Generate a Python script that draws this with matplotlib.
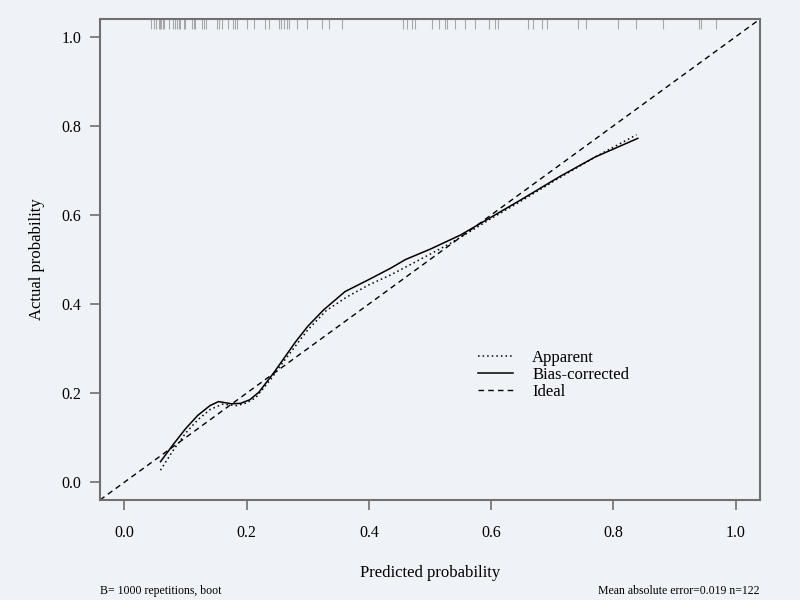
import numpy as np
import matplotlib.pyplot as plt

# Calibration curves
bias_x = [0.059, 0.08, 0.10, 0.12, 0.14, 0.154, 0.175, 0.19, 0.205, 0.22, 0.244,
          0.28, 0.30, 0.326, 0.361, 0.40, 0.435, 0.46, 0.50, 0.55, 0.60, 0.65,
          0.712, 0.77, 0.84]
bias_y = [0.046, 0.085, 0.12, 0.15, 0.172, 0.181, 0.176, 0.177, 0.185, 0.202, 0.245,
          0.315, 0.35, 0.387, 0.428, 0.455, 0.48, 0.50, 0.523, 0.555, 0.595, 0.635,
          0.686, 0.73, 0.772]

app_x = [0.059, 0.08, 0.10, 0.12, 0.14, 0.16, 0.184, 0.20, 0.215, 0.24, 0.26,
         0.30, 0.33, 0.364, 0.40, 0.435, 0.47, 0.533, 0.58, 0.60, 0.65, 0.71,
         0.77, 0.838]
app_y = [0.027, 0.072, 0.11, 0.14, 0.163, 0.175, 0.172, 0.178, 0.19, 0.232, 0.27,
         0.342, 0.385, 0.416, 0.443, 0.465, 0.49, 0.536, 0.575, 0.592, 0.632, 0.682,
         0.73, 0.78]

# predicted values shown as rug at the top
rug_x = [0.0441, 0.0479, 0.0518, 0.0560, 0.0577, 0.0600, 0.0632, 0.0654, 0.0724,
         0.0796, 0.0833, 0.0861, 0.0887, 0.0915, 0.0969, 0.0997, 0.1106, 0.1132,
         0.1160, 0.1270, 0.1307, 0.1340, 0.1515, 0.1552, 0.1596, 0.1688, 0.1776,
         0.1814, 0.1842, 0.2005, 0.2113, 0.2304, 0.2358, 0.2521, 0.2560, 0.2603,
         0.2658, 0.2685, 0.2822, 0.2985, 0.3230, 0.3355, 0.3557, 0.4554, 0.4629,
         0.4701, 0.4755, 0.5028, 0.5152, 0.5245, 0.5273, 0.5408, 0.5572, 0.5735,
         0.5969, 0.6062, 0.6116, 0.6606, 0.6688, 0.6825, 0.6907, 0.7423, 0.7560,
         0.8077, 0.8377, 0.8812, 0.9400, 0.9439, 0.9685]

ticks = [0.0, 0.2, 0.4, 0.6, 0.8, 1.0]
bg = '#eff2f7'
frame = '#707070'

plt.rcParams['font.family'] = ['Liberation Serif', 'DejaVu Serif']

fig = plt.figure(figsize=(8, 6), dpi=100, facecolor=bg)
ax = fig.add_axes([0.125, 0.1667, 0.825, 0.8016], facecolor=bg)

lo, hi = -0.04, 1.04
ax.set_xlim(lo, hi)
ax.set_ylim(lo, hi)

ax.plot(app_x, app_y, color='black', lw=1.1, linestyle=(0, (1, 2)), label='Apparent')
ax.plot(bias_x, bias_y, color='black', lw=1.1, linestyle='-', label='Bias-corrected')
ax.plot([lo, hi], [lo, hi], color='black', lw=1.0, linestyle=(0, (4, 3)), label='Ideal')

ax.vlines(rug_x, hi - 0.022, hi, colors='#777777', lw=0.8, alpha=0.6)

ax.set_xticks(ticks)
ax.set_yticks(ticks)
ax.set_xticklabels([f'{t:.1f}' for t in ticks])
ax.set_yticklabels([f'{t:.1f}' for t in ticks])
ax.tick_params(direction='out', length=7, width=1.2, color=frame, labelsize=11.5)
ax.tick_params(axis='x', pad=11)
ax.tick_params(axis='y', pad=6.5)
for s in ax.spines.values():
    s.set_color(frame)
    s.set_linewidth(1.5)

ax.set_xlabel('Predicted probability', fontsize=12, labelpad=17)
ax.set_ylabel('Actual probability', fontsize=12, labelpad=12)

ax.legend(loc='upper left', bbox_to_anchor=(0.550, 0.3425), frameon=False,
          fontsize=12, handlelength=2.1, handletextpad=1.15, labelspacing=0.05)

fig.text(0.125, 0.015, 'B= 1000 repetitions, boot', fontsize=8.5, ha='left', va='center')
fig.text(0.95, 0.015, 'Mean absolute error=0.019 n=122', fontsize=8.5, ha='right', va='center')

fig.savefig('out.png', dpi=100, facecolor=bg)
